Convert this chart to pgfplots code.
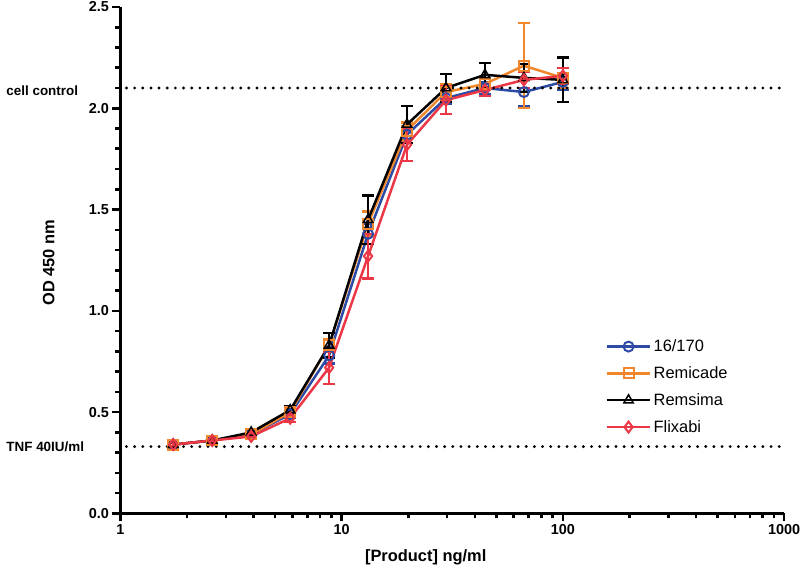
\documentclass[border=0pt]{standalone}
\usepackage{pgfplots}
\pgfplotsset{compat=1.18}
\usepackage{fontspec}
\setmainfont{Liberation Sans}
\definecolor{cblue}{RGB}{45,75,165}
\definecolor{corange}{RGB}{240,135,45}
\definecolor{cred}{RGB}{235,55,70}
\begin{document}
\begin{tikzpicture}
\useasboundingbox (-121pt,-55pt) rectangle (683pt,516pt);
\begin{axis}[
  at={(0pt,0pt)}, anchor=south west,
  scale only axis, width=667pt, height=509pt,
  xmode=log, xmin=1, xmax=1000, ymin=0, ymax=2.5,
  axis lines=left, axis line style={-, line width=2.8pt},
  clip=false,
  xtick={1,10,100,1000}, xticklabels={1,10,100,1000},
  minor xtick={2,3,4,5,6,7,8,9,20,30,40,50,60,70,80,90,200,300,400,500,600,700,800,900},
  ytick={0,0.5,1,1.5,2,2.5}, minor ytick={0.1,0.2,0.3,0.4,0.6,0.7,0.8,0.9,1.1,1.2,1.3,1.4,1.6,1.7,1.8,1.9,2.1,2.2,2.3,2.4},
  yticklabel style={/pgf/number format/.cd, fixed, fixed zerofill, precision=1},
  /pgf/number format/assume math mode=true,
  tick align=outside, major tick length=8pt, minor tick length=5pt,
  every tick/.style={line width=2.6pt, black},
  ticklabel style={font=\bfseries\fontsize{14.5}{16}\selectfont},
  xlabel={[Product] ng/ml}, ylabel={OD 450 nm},
  label style={font=\bfseries\fontsize{16.5}{19}\selectfont},
  xlabel style={at={(axis description cs:0.46,-0.0864)}, anchor=center},
  ylabel style={at={(axis description cs:-0.108,0.495)}, anchor=center},
  legend style={at={(axis description cs:0.726,0.25)}, anchor=west, draw=none, fill=none,
    font=\fontsize{16.5}{19}\selectfont, row sep=9.5pt},
  legend cell align=left,
  legend image code/.code={\draw[mark repeat=2,mark phase=2] plot coordinates {(0pt,0pt)(22pt,0pt)(44pt,0pt)};},
  every axis plot/.append style={line width=2.5pt},
  error bars/error bar style={line width=2.3pt},
  error bars/error mark options={rotate=90, mark size=6pt, line width=2.3pt},
]
\addplot[cblue, mark=o, mark size=5pt, mark options={fill=white, line width=2pt}, error bars/.cd, y dir=both, y explicit] coordinates {
(1.734,0.34) +- (0,0.01)
(2.601,0.36) +- (0,0.01)
(3.902,0.39) +- (0,0.01)
(5.853,0.49) +- (0,0.02)
(8.779,0.78) +- (0,0.04)
(13.17,1.38) +- (0,0.05)
(19.75,1.87) +- (0,0.04)
(29.63,2.05) +- (0,0.03)
(44.44,2.10) +- (0,0.03)
(66.67,2.08) +- (0,0.07)
(100,2.13) +- (0,0.04)
};
\addlegendentry{16/170}
\addplot[corange, mark=square, mark size=5pt, mark options={fill=white, line width=2pt}, error bars/.cd, y dir=both, y explicit] coordinates {
(1.734,0.34) +- (0,0.01)
(2.601,0.36) +- (0,0.01)
(3.902,0.39) +- (0,0.01)
(5.853,0.50) +- (0,0.02)
(8.779,0.83) +- (0,0.03)
(13.17,1.43) +- (0,0.06)
(19.75,1.89) +- (0,0.04)
(29.63,2.08) +- (0,0.04)
(44.44,2.12) +- (0,0.03)
(66.67,2.21) +- (0,0.21)
(100,2.15) +- (0,0.05)
};
\addlegendentry{Remicade}
\addplot[black, mark=triangle, mark size=5.5pt, mark options={fill=white, line width=1.5pt}, error bars/.cd, y dir=both, y explicit] coordinates {
(1.734,0.34) +- (0,0.01)
(2.601,0.36) +- (0,0.01)
(3.902,0.40) +- (0,0.01)
(5.853,0.51) +- (0,0.02)
(8.779,0.83) +- (0,0.06)
(13.17,1.45) +- (0,0.12)
(19.75,1.92) +- (0,0.09)
(29.63,2.10) +- (0,0.07)
(44.44,2.165) +- (0,0.06)
(66.67,2.15) +- (0,0.07)
(100,2.14) +- (0,0.11)
};
\addlegendentry{Remsima}
\addplot[cred, mark=diamond, mark size=5.5pt, mark options={fill=white, line width=2pt}, error bars/.cd, y dir=both, y explicit] coordinates {
(1.734,0.34) +- (0,0.01)
(2.601,0.36) +- (0,0.01)
(3.902,0.38) +- (0,0.01)
(5.853,0.47) +- (0,0.02)
(8.779,0.72) +- (0,0.08)
(13.17,1.27) +- (0,0.11)
(19.75,1.82) +- (0,0.08)
(29.63,2.04) +- (0,0.07)
(44.44,2.09) +- (0,0.03)
(66.67,2.14) +- (0,0.04)
(100,2.16) +- (0,0.04)
};
\addlegendentry{Flixabi}
\addplot[black, line width=3.2pt, line cap=round, dash pattern=on 0pt off 8.2pt, forget plot] coordinates {(1.065,2.1) (1020,2.1)};
\addplot[black, line width=3.2pt, line cap=round, dash pattern=on 0pt off 8.2pt, forget plot] coordinates {(1.065,0.33) (1020,0.33)};
\node[anchor=west, font=\bfseries\fontsize{13.5}{16}\selectfont] at (axis description cs:-0.177,0.835) {cell control};
\node[anchor=west, font=\bfseries\fontsize{13.5}{16}\selectfont] at (axis description cs:-0.177,0.132) {TNF 40IU/ml};
\end{axis}
\end{tikzpicture}
\end{document}
